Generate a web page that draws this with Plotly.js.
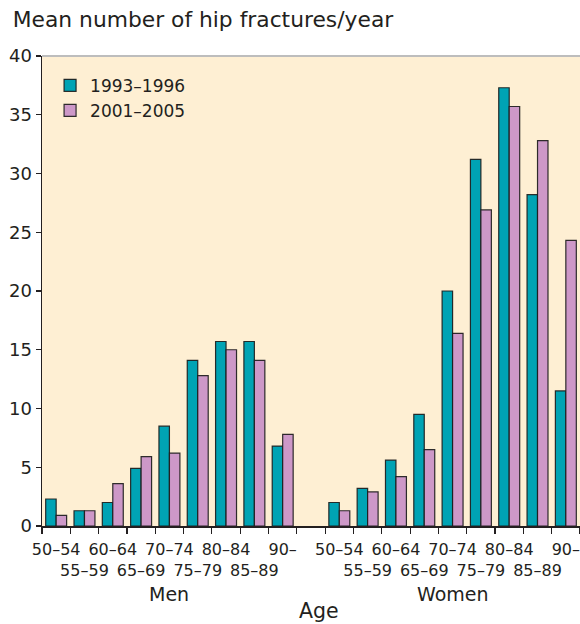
<!DOCTYPE html>
<html>
<head>
<meta charset="utf-8">
<script src="https://cdn.plot.ly/plotly-3.0.1.min.js"></script>
<style>html,body{margin:0;padding:0;background:#fff;}#chart{width:580px;height:624px;}</style>
</head>
<body>
<div id="chart"></div>
<script>
// ---- data ----
const groups = ["Men", "Women"];
const ageBands = ["50–54", "55–59", "60–64", "65–69", "70–74", "75–79", "80–84", "85–89", "90–"];
const seriesNames = ["1993–1996", "2001–2005"];
const men1993 = [2.3, 1.3, 2.0, 4.9, 8.5, 14.1, 15.7, 15.7, 6.8];
const men2001 = [0.9, 1.3, 3.6, 5.9, 6.2, 12.8, 15.0, 14.1, 7.8];
const women1993 = [2.0, 3.2, 5.6, 9.5, 20.0, 31.2, 37.3, 28.2, 11.5];
const women2001 = [1.3, 2.9, 4.2, 6.5, 16.4, 26.9, 35.7, 32.8, 24.3];
const yTicks = [0, 5, 10, 15, 20, 25, 30, 35, 40];

// ---- build categories (with an empty spacer slot between groups) ----
const gapCat = " ";
const cats = [];
const tickText = [];
groups.forEach((g, gi) => {
  ageBands.forEach((b, i) => {
    cats.push(g + " " + b);
    tickText.push(i % 2 === 0 ? b : "<br>" + b);
  });
  if (gi < groups.length - 1) { cats.push(gapCat); tickText.push(""); }
});
const y1 = men1993.concat([null], women1993);
const y2 = men2001.concat([null], women2001);

const FONT = "DejaVu Sans, Arial, sans-serif";
const TXT = "#231f20";
const lineCol = "rgba(25,25,25,0.9)";

const traces = [
  { type: "bar", name: seriesNames[0], x: cats, y: y1,
    marker: { color: "#00a3b4", line: { color: lineCol, width: 1.2 } } },
  { type: "bar", name: seriesNames[1], x: cats, y: y2,
    marker: { color: "#cd98c8", line: { color: lineCol, width: 1.2 } } }
];

const menIdx = (ageBands.length - 1) / 2;
const womenIdx = ageBands.length + 1 + menIdx;

const layout = {
  width: 580, height: 624,
  margin: { l: 42, r: 0, t: 56, b: 98, pad: 0 },
  paper_bgcolor: "#ffffff",
  plot_bgcolor: "#feefd3",
  font: { family: FONT, color: TXT, size: 16 },
  title: { text: "Mean number of hip fractures/year", font: { family: FONT, size: 21.8, color: TXT },
           xref: "container", yref: "container", x: 0.022, xanchor: "left", y: 0.9696, yanchor: "middle" },
  barmode: "group", bargap: 0.26, bargroupgap: 0,
  showlegend: true,
  legend: { x: 0.015, xanchor: "left", y: 0.975, yanchor: "top", bgcolor: "rgba(0,0,0,0)",
            font: { family: FONT, size: 17, color: TXT }, traceorder: "normal" },
  xaxis: {
    type: "category", categoryorder: "array", categoryarray: cats,
    tickmode: "array", tickvals: cats, ticktext: tickText, tickangle: 0,
    tickson: "boundaries", ticks: "outside", ticklen: 6, tickwidth: 1.2, tickcolor: TXT,
    ticklabelstandoff: 8,
    showline: true, linecolor: TXT, linewidth: 1.5,
    showgrid: false, zeroline: false, automargin: false,
    range: [-0.5, cats.length - 0.5],
    tickfont: { family: FONT, size: 16, color: TXT }
  },
  yaxis: {
    range: [0, 40], tickmode: "array", tickvals: yTicks,
    ticks: "outside", ticklen: 5, tickwidth: 1.2, tickcolor: TXT,
    showline: true, linecolor: TXT, linewidth: 1.5,
    showgrid: false, zeroline: false, automargin: false,
    tickfont: { family: FONT, size: 18, color: TXT }
  },
  shapes: [
    { type: "line", xref: "paper", yref: "paper", x0: 0, x1: 1, y0: 1, y1: 1,
      line: { color: "#bdbdbd", width: 2 } }
  ],
  annotations: [
    { text: groups[0], xref: "x", yref: "paper", x: menIdx, y: -0.1447, yanchor: "middle",
      showarrow: false, font: { family: FONT, size: 19, color: TXT } },
    { text: groups[1], xref: "x", yref: "paper", x: womenIdx, y: -0.1447, yanchor: "middle",
      showarrow: false, font: { family: FONT, size: 19, color: TXT } },
    { text: "Age", xref: "paper", yref: "paper", x: 0.515, y: -0.181, yanchor: "middle",
      showarrow: false, font: { family: FONT, size: 20.5, color: TXT } }
  ]
};

Plotly.newPlot("chart", traces, layout, { staticPlot: true, displayModeBar: false });
</script>
</body>
</html>
